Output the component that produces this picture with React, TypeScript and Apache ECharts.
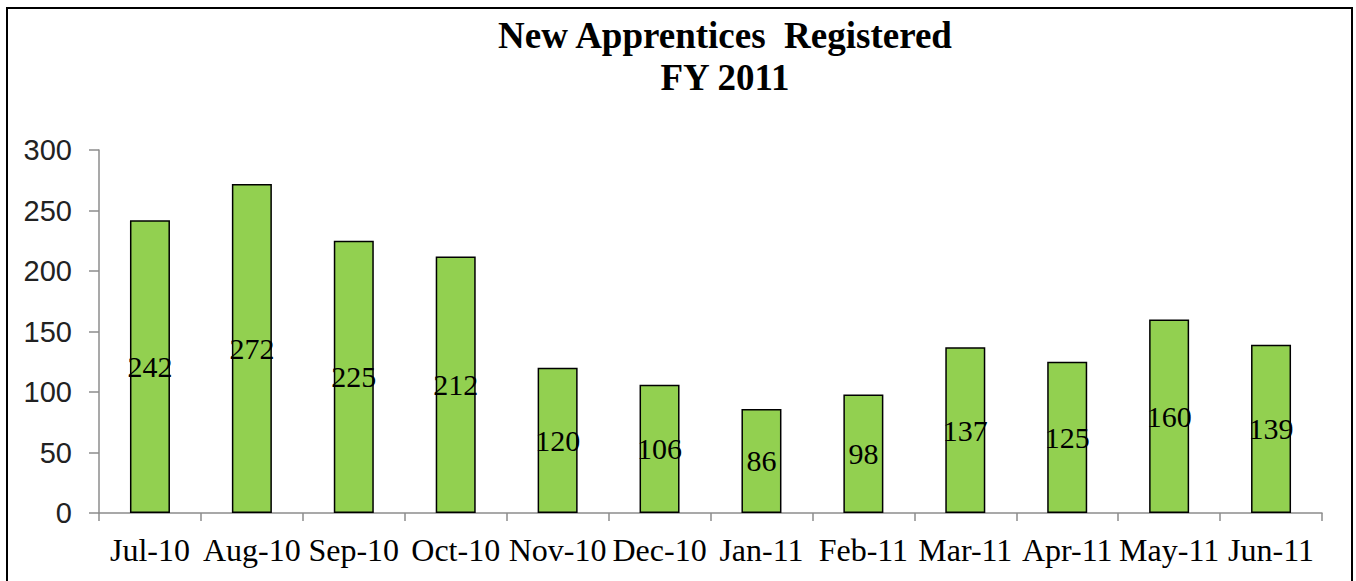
import React, { useEffect, useRef } from "react";
import * as echarts from "echarts";

const categories = ["Jul-10", "Aug-10", "Sep-10", "Oct-10", "Nov-10", "Dec-10", "Jan-11", "Feb-11", "Mar-11", "Apr-11", "May-11", "Jun-11"];
const registered = [242, 272, 225, 212, 120, 106, 86, 98, 137, 125, 160, 139];
const titleLines = ["New Apprentices  Registered", "FY 2011"];

export default function App() {
  const ref = useRef<HTMLDivElement>(null);
  useEffect(() => {
    if (!ref.current) return;
    const chart = echarts.init(ref.current, null, { renderer: "svg" });
    chart.setOption({
      animation: false,
      backgroundColor: "#ffffff",
      title: {
        text: titleLines.join("\n"),
        left: 720,
        top: 9,
        textAlign: "center",
        textStyle: {
          fontFamily: "Liberation Serif",
          fontWeight: "bold",
          fontSize: 37,
          lineHeight: 42,
          color: "#000",
        },
      },
      graphic: [
        {
          type: "rect",
          shape: { x: 7, y: 8, width: 1345, height: 600 },
          style: { fill: "none", stroke: "#000", lineWidth: 2 },
          silent: true,
        },
      ],
      grid: { left: 99, right: 34, top: 150, bottom: 68 },
      xAxis: {
        type: "category",
        data: categories,
        axisLine: { lineStyle: { color: "#8c8c8c", width: 1.5 } },
        axisTick: { show: true, length: 8, lineStyle: { color: "#8c8c8c", width: 1.5 } },
        axisLabel: {
          interval: 0,
          margin: 21,
          fontFamily: "Liberation Serif",
          fontSize: 32,
          color: "#000",
        },
      },
      yAxis: {
        type: "value",
        min: 0,
        max: 300,
        interval: 50,
        splitLine: { show: false },
        axisLine: { show: true, lineStyle: { color: "#8c8c8c", width: 1.5 } },
        axisTick: { show: true, length: 10, lineStyle: { color: "#8c8c8c", width: 1.5 } },
        axisLabel: {
          margin: 27,
          fontFamily: "Liberation Sans",
          fontSize: 29,
          color: "#222",
        },
      },
      series: [
        {
          type: "bar",
          data: registered,
          barWidth: 40,
          itemStyle: { color: "#92D050", borderColor: "#000", borderWidth: 1.5 },
          label: {
            show: true,
            position: "inside",
            fontFamily: "Liberation Serif",
            fontSize: 30,
            color: "#000",
          },
        },
      ],
    });
    return () => chart.dispose();
  }, []);
  return <div ref={ref} style={{ position: "fixed", left: 0, top: 0, width: 1356, height: 581 }} />;
}
